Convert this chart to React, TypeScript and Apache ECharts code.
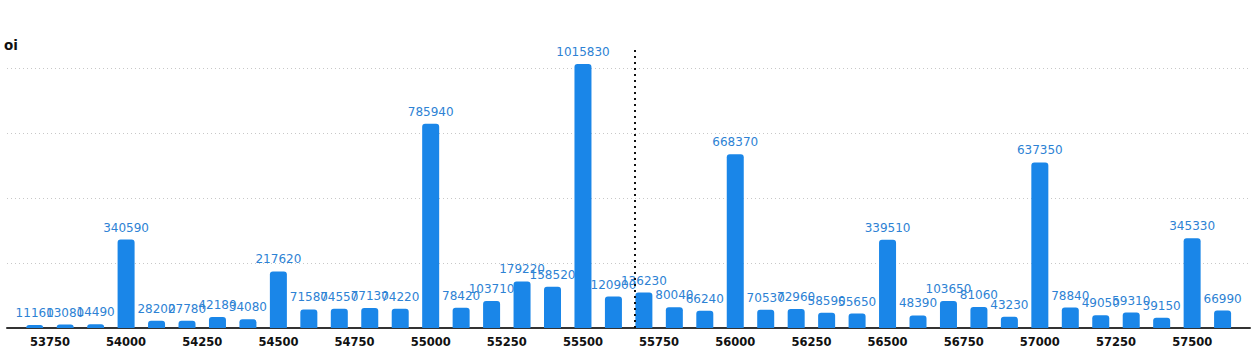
import React, { useEffect, useRef } from "react";
import * as echarts from "echarts";

const strikes = [
  53700, 53800, 53900, 54000, 54100, 54200, 54300, 54400, 54500, 54600,
  54700, 54800, 54900, 55000, 55100, 55200, 55300, 55400, 55500, 55600,
  55700, 55800, 55900, 56000, 56100, 56200, 56300, 56400, 56500, 56600,
  56700, 56800, 56900, 57000, 57100, 57200, 57300, 57400, 57500, 57600,
];
const oiValues = [
  11160, 13080, 14490, 340590, 28200, 27780, 42180, 34080, 217620, 71580,
  74550, 77130, 74220, 785940, 78420, 103710, 179220, 158520, 1015830, 120900,
  136230, 80040, 66240, 668370, 70530, 72960, 58590, 55650, 339510, 48390,
  103650, 81060, 43230, 637350, 78840, 49050, 59310, 39150, 345330, 66990,
];
const xTickValues = [53750, 54000, 54250, 54500, 54750, 55000, 55250, 55500, 55750, 56000, 56250, 56500, 56750, 57000, 57250, 57500];
const yTickValues = [0, 250000, 500000, 750000, 1000000];
const spotPrice = 55670;

export default function App() {
  const ref = useRef<HTMLDivElement>(null);
  useEffect(() => {
    if (!ref.current) return;
    const chart = echarts.init(ref.current, null, { renderer: "svg" });
    chart.setOption({
      animation: false,
      grid: { left: 7, right: 2, top: 50, bottom: 24, containLabel: false },
      xAxis: {
        type: "value",
        min: 53609,
        max: 57690,
        splitLine: { show: false },
        axisLine: { show: true, onZero: false, lineStyle: { color: "#333", width: 2 } },
        axisTick: { show: false, customValues: xTickValues },
        axisLabel: {
          customValues: xTickValues,
          formatter: (v: number) => String(v),
          color: "#111",
          fontWeight: "bold",
          fontSize: 11.5,
          fontFamily: "DejaVu Sans",
          margin: 8,
        },
      },
      yAxis: {
        type: "value",
        min: 0,
        max: 1070000,
        name: "oi",
        nameLocation: "end",
        nameGap: -2,
        nameTextStyle: { color: "#111", fontWeight: "bold", fontSize: 13.5, fontFamily: "DejaVu Sans", align: "left", padding: [0, 0, 0, -3] },
        axisLine: { show: false },
        axisTick: { show: false, customValues: yTickValues },
        axisLabel: { show: false, customValues: yTickValues },
        splitLine: { show: true, lineStyle: { color: "#c8c8c8", type: [1, 3], width: 1 } },
      },
      series: [
        {
          type: "bar",
          data: strikes.map((s, i) => [s, oiValues[i]]),
          barWidth: 17,
          itemStyle: { color: "#1a86e8", borderRadius: [3, 3, 0, 0] },
          label: {
            show: true,
            position: "top",
            color: "#2d82d4",
            fontSize: 12,
            fontFamily: "DejaVu Sans",
            distance: 6,
          },
          markLine: {
            symbol: "none",
            silent: true,
            label: { show: false },
            lineStyle: { color: "#111", type: [2, 4], width: 2 },
            data: [{ xAxis: spotPrice }],
          },
        },
      ],
    });
    return () => chart.dispose();
  }, []);
  return (
    <div
      ref={ref}
      style={{ position: "absolute", left: 0, top: 0, width: 1252, height: 352, background: "#fff" }}
    />
  );
}
